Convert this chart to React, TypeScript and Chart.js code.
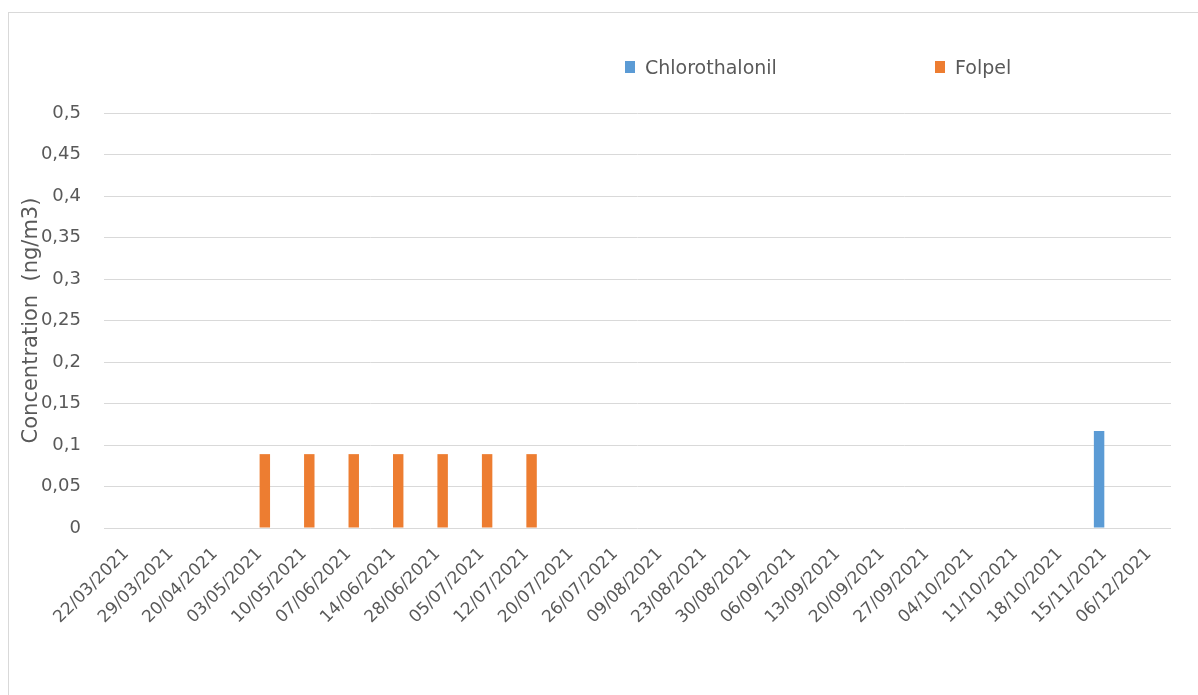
import React, { useEffect, useRef } from "react";
import { Chart, registerables } from "chart.js";

Chart.register(...registerables);

// Sampling dates (weekly campaign, 2021)
const categories = [
  "22/03/2021", "29/03/2021", "20/04/2021", "03/05/2021", "10/05/2021",
  "07/06/2021", "14/06/2021", "28/06/2021", "05/07/2021", "12/07/2021",
  "20/07/2021", "26/07/2021", "09/08/2021", "23/08/2021", "30/08/2021",
  "06/09/2021", "13/09/2021", "20/09/2021", "27/09/2021", "04/10/2021",
  "11/10/2021", "18/10/2021", "15/11/2021", "06/12/2021",
];

// Concentrations in ng/m3 (null = not quantified)
const chlorothalonil: (number | null)[] = [
  null, null, null, null, null, null, null, null, null, null, null, null,
  null, null, null, null, null, null, null, null, null, null, 0.117, null,
];
const folpel: (number | null)[] = [
  null, null, null, 0.089, 0.089, 0.089, 0.089, 0.089, 0.089, 0.089, null, null,
  null, null, null, null, null, null, null, null, null, null, null, null,
];

const seriesNames = ["Chlorothalonil", "Folpel"];
const seriesColors = ["#5b9bd5", "#ed7d31"];

const yTickLabels = ["0", "0,05", "0,1", "0,15", "0,2", "0,25", "0,3", "0,35", "0,4", "0,45", "0,5"];
const yAxisTitle = "Concentration  (ng/m3)";

const FONT = "'DejaVu Sans', sans-serif";
const TEXT = "#595959";
const GRID = "#d9d9d9";

export default function App() {
  const canvasRef = useRef<HTMLCanvasElement | null>(null);

  useEffect(() => {
    const canvas = canvasRef.current;
    if (!canvas) return;
    const chart = new Chart(canvas, {
      type: "bar",
      data: {
        labels: categories,
        datasets: [
          {
            label: seriesNames[0],
            data: chlorothalonil,
            backgroundColor: seriesColors[0],
            categoryPercentage: 0.47,
            barPercentage: 1,
          },
          {
            label: seriesNames[1],
            data: folpel,
            backgroundColor: seriesColors[1],
            categoryPercentage: 0.47,
            barPercentage: 1,
          },
        ],
      },
      options: {
        animation: false,
        responsive: false,
        maintainAspectRatio: false,
        layout: { padding: { top: 100, right: 27, bottom: 0, left: 0 } },
        plugins: {
          legend: { display: false },
          tooltip: { enabled: false },
        },
        scales: {
          x: {
            grid: { display: false, drawTicks: false },
            border: { display: false },
            ticks: {
              autoSkip: false,
              minRotation: 45,
              maxRotation: 45,
              padding: 16,
              color: TEXT,
              font: { family: FONT, size: 17 },
            },
            afterFit: (s: any) => {
              s.height = 167;
            },
          },
          y: {
            min: 0,
            max: 0.5,
            grid: { color: GRID, lineWidth: 1, drawTicks: false },
            border: { display: false },
            ticks: {
              stepSize: 0.05,
              padding: 23,
              color: TEXT,
              font: { family: FONT, size: 18 },
              callback: (_v: any, i: number) => yTickLabels[i] ?? "",
            },
            title: {
              display: true,
              text: yAxisTitle,
              color: TEXT,
              padding: { top: 10, bottom: 0 },
              font: { family: FONT, size: 21, weight: "normal" },
            },
            afterFit: (s: any) => {
              s.width = 95;
            },
          },
        },
      },
    });
    return () => chart.destroy();
  }, []);

  const legendText: React.CSSProperties = {
    position: "absolute",
    top: 43,
    fontFamily: FONT,
    fontSize: 19,
    lineHeight: "22px",
    color: TEXT,
    whiteSpace: "nowrap",
  };
  const legendBox: React.CSSProperties = {
    position: "absolute",
    top: 48,
    width: 10,
    height: 12,
  };

  return (
    <div
      style={{
        position: "absolute",
        left: 8,
        top: 12,
        width: 1190,
        height: 683,
        borderTop: `1px solid ${GRID}`,
        borderLeft: `1px solid ${GRID}`,
        boxSizing: "border-box",
        background: "#fff",
      }}
    >
      <canvas
        ref={canvasRef}
        width={1189}
        height={682}
        style={{ position: "absolute", left: 0, top: 0, width: 1189, height: 682 }}
      />
      <div style={{ ...legendBox, left: 616, background: seriesColors[0] }} />
      <div style={{ ...legendText, left: 636 }}>{seriesNames[0]}</div>
      <div style={{ ...legendBox, left: 926, background: seriesColors[1] }} />
      <div style={{ ...legendText, left: 946 }}>{seriesNames[1]}</div>
    </div>
  );
}
